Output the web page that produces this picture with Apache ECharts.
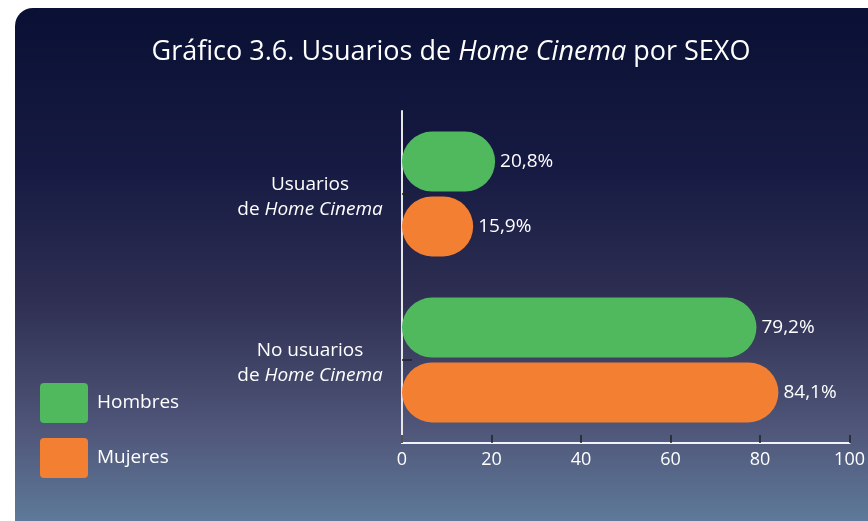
<!DOCTYPE html>
<html>
<head>
<meta charset="utf-8">
<script src="https://cdn.jsdelivr.net/npm/echarts@6/dist/echarts.min.js"></script>
<style>
  html, body { margin: 0; padding: 0; background: #fff; }
  #chart { width: 868px; height: 521px; }
</style>
</head>
<body>
<div id="chart"></div>
<script>
// datos del gráfico
var categorias = ['Usuarios\nde {i|Home Cinema}', 'No usuarios\nde {i|Home Cinema}'];
var hombres = [20.8, 79.2];
var mujeres = [15.9, 84.1];
var ticksX = [0, 20, 40, 60, 80, 100];

var fuente = '"Open Sans", sans-serif';
var chart = echarts.init(document.getElementById('chart'));

function etiqueta(p) {
  return p.value.toFixed(1).replace('.', ',') + '%';
}

// cuadrado con esquinas poco redondeadas para la leyenda
var iconoLeyenda = 'path://M4,0 H44 Q48,0 48,4 V36 Q48,40 44,40 H4 Q0,40 0,36 V4 Q0,0 4,0 Z';

var option = {
  backgroundColor: '#fff',
  animation: false,
  textStyle: { fontFamily: fuente },
  graphic: [{
    type: 'rect',
    z: -10,
    shape: { x: 15, y: 8, width: 900, height: 530, r: [18, 0, 0, 18] },
    style: {
      fill: new echarts.graphic.LinearGradient(0, 0, 0, 1, [
        { offset: 0, color: '#0a1034' },
        { offset: 0.3, color: '#161a42' },
        { offset: 0.55, color: '#2e2f52' },
        { offset: 0.8, color: '#50577a' },
        { offset: 1, color: '#61809f' }
      ])
    }
  }],
  title: {
    text: 'Gráfico 3.6. Usuarios de {i|Home Cinema} por SEXO',
    left: 446,
    textAlign: 'center',
    top: 34,
    textStyle: {
      color: '#fff', fontSize: 27, fontWeight: 'normal', fontFamily: fuente,
      rich: { i: { fontStyle: 'italic', fontSize: 27, color: '#fff', fontFamily: fuente } }
    }
  },
  legend: {
    orient: 'vertical',
    left: 40,
    top: 383,
    padding: 0,
    itemWidth: 48,
    itemHeight: 40,
    itemGap: 15,
    icon: iconoLeyenda,
    textStyle: { color: '#fff', fontSize: 19, fontFamily: fuente, padding: [0, 0, 0, 4] },
    data: ['Hombres', 'Mujeres']
  },
  grid: { left: 402, right: 13, top: 111, bottom: 78 },
  xAxis: {
    type: 'value',
    min: ticksX[0],
    max: ticksX[ticksX.length - 1],
    interval: 20,
    splitLine: { show: false },
    axisLine: { show: true, lineStyle: { color: '#eef2fb', width: 2 } },
    axisTick: { show: true, inside: true, length: 8, lineStyle: { color: '#222', width: 1.5 } },
    axisLabel: { color: '#fff', fontSize: 18, margin: 8, fontFamily: fuente }
  },
  yAxis: {
    type: 'category',
    inverse: true,
    data: categorias,
    axisLine: { show: true, lineStyle: { color: '#e6e6e6', width: 2 } },
    axisTick: { show: true, inside: true, alignWithLabel: true, length: 10, lineStyle: { color: '#222', width: 1.5 } },
    axisLabel: {
      color: '#fff', fontSize: 19, margin: 92, align: 'center', lineHeight: 25,
      fontFamily: fuente, padding: [6, 0, 0, 0],
      rich: { i: { fontStyle: 'italic', fontSize: 19, color: '#fff', lineHeight: 25, fontFamily: fuente } }
    }
  },
  series: [
    {
      name: 'Hombres',
      type: 'bar',
      data: hombres,
      barWidth: 60,
      barGap: '8%',
      itemStyle: { color: '#50b95d', borderRadius: 30 },
      label: { show: true, position: 'right', distance: 5, color: '#fff', fontSize: 19, fontFamily: fuente, formatter: etiqueta }
    },
    {
      name: 'Mujeres',
      type: 'bar',
      data: mujeres,
      barWidth: 60,
      barGap: '8%',
      itemStyle: { color: '#f37f33', borderRadius: 30 },
      label: { show: true, position: 'right', distance: 5, color: '#fff', fontSize: 19, fontFamily: fuente, formatter: etiqueta }
    }
  ]
};

chart.setOption(option);
</script>
</body>
</html>
